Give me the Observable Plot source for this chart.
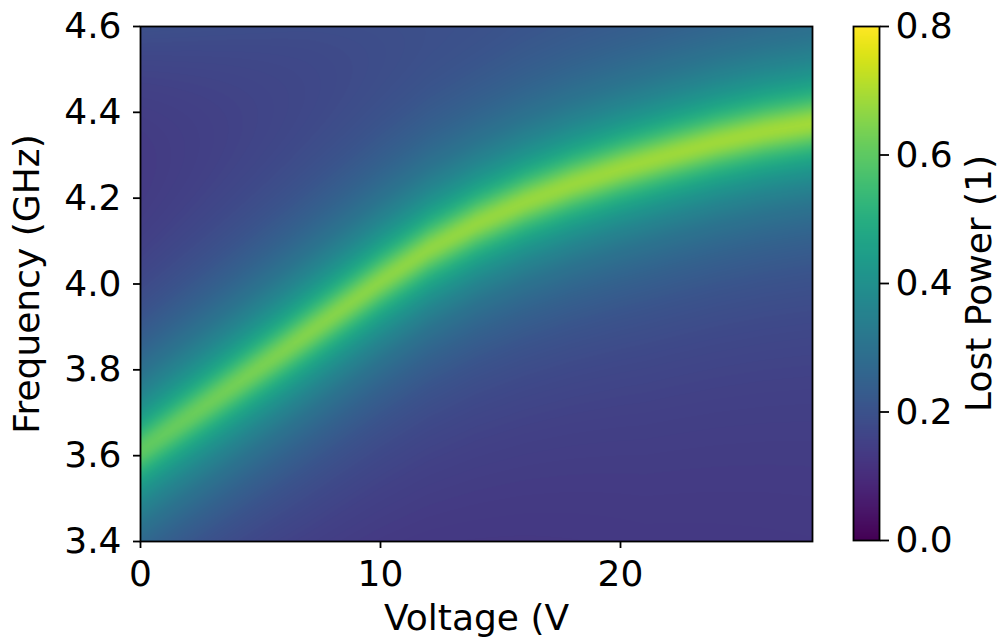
<!DOCTYPE html>
<html><head><meta charset="utf-8">
<script src="https://cdn.jsdelivr.net/npm/d3@7"></script>
<script src="https://cdn.jsdelivr.net/npm/@observablehq/plot@0.6"></script>
<style>
body{margin:0;background:#fff;}
#wrap{position:relative;width:1003px;height:643px;font-family:"DejaVu Sans";}
#wrap svg{position:absolute;top:0;overflow:visible;}
</style></head><body><div id="wrap"></div>
<script>
// Values
// resonance centre (bright ridge) vs voltage
const ridgeVoltages = [0, 2, 4, 6, 8, 10, 12, 14, 16, 18, 20, 22, 24, 26, 28];
const resonanceGHz = [3.612, 3.690, 3.768, 3.846, 3.926, 4.006, 4.080, 4.140, 4.190, 4.232, 4.268, 4.300, 4.330, 4.355, 4.374];
// line-shape parameters vs voltage
const shapeVoltages = [0, 7, 14, 21, 28];
const peakPower = [0.60, 0.645, 0.665, 0.675, 0.68];
const floorPower = [0.065, 0.09, 0.105, 0.115, 0.12];
const broadPower = [0.31, 0.30, 0.29, 0.29, 0.29];
const broadWidthGHz = [0.26, 0.235, 0.22, 0.215, 0.21];
const narrowWidthGHz = [0.068, 0.066, 0.065, 0.064, 0.063];
const topGlowPower = [0.11, 0.065, 0.035, 0.02, 0.015];

const xTicks = [0, 10, 20];
const yTicks = [3.4, 3.6, 3.8, 4.0, 4.2, 4.4, 4.6];
const colorTicks = [0.0, 0.2, 0.4, 0.6, 0.8];
const xDomain = [0, 28];
const yDomain = [3.4, 4.6];
const colorDomain = [0, 0.8];

const along = (knots, arr) => d3.scaleLinear().domain(knots).range(arr).clamp(true);
const f0 = along(ridgeVoltages, resonanceGHz);
const pk = along(shapeVoltages, peakPower), floor = along(shapeVoltages, floorPower),
      a2s = along(shapeVoltages, broadPower), g2s = along(shapeVoltages, broadWidthGHz),
      g1s = along(shapeVoltages, narrowWidthGHz), glow = along(shapeVoltages, topGlowPower);

function lostPower(v, f) {
  const d = f - f0(v);
  const a2 = a2s(v), b = floor(v);
  const a1 = pk(v) - b - a2;
  return b + glow(v) * Math.exp(-(yDomain[1] - f) / 0.24)
    + a1 / (1 + (d / g1s(v)) ** 2) + a2 / (1 + (d / g2s(v)) ** 2);
}

const font = {fontFamily: "DejaVu Sans", fontSize: "36px", color: "black", background: "transparent", overflow: "visible"};
const colorScale = {type: "linear", scheme: "viridis", domain: colorDomain};

const main = Plot.plot({
  width: 1003, height: 643,
  marginLeft: 140, marginRight: 191, marginTop: 26, marginBottom: 102,
  style: font,
  x: {domain: xDomain},
  y: {domain: yDomain},
  color: colorScale,
  marks: [
    Plot.raster({x1: xDomain[0], x2: xDomain[1], y1: yDomain[0], y2: yDomain[1], fill: lostPower, pixelSize: 1}),
    Plot.frame({stroke: "black", strokeWidth: 1.8}),
    Plot.axisX({ticks: xTicks, tickSize: 7, tickPadding: 12, strokeWidth: 1.8, tickFormat: d => String(d), label: null}),
    Plot.axisY({ticks: yTicks, tickSize: 7, tickPadding: 12, strokeWidth: 1.8, tickFormat: d3.format(".1f"), label: null}),
    Plot.text(["Voltage (V"], {text: d => d, frameAnchor: "bottom", dy: 88, lineAnchor: "bottom", textAnchor: "middle", fill: "black"}),
    Plot.text(["Frequency (GHz)"], {text: d => d, frameAnchor: "left", rotate: -90, dx: -127, lineAnchor: "top", textAnchor: "middle", fill: "black"})
  ]
});

const cbar = Plot.plot({
  width: 150, height: 643,
  marginLeft: 0, marginRight: 124, marginTop: 26, marginBottom: 103,
  style: font,
  x: {domain: [0, 1], axis: null},
  y: {domain: colorDomain},
  color: colorScale,
  marks: [
    Plot.raster({x1: 0, x2: 1, y1: colorDomain[0], y2: colorDomain[1], fill: (x, y) => y, pixelSize: 1}),
    Plot.frame({stroke: "black", strokeWidth: 1.8}),
    Plot.axisY({anchor: "right", ticks: colorTicks, tickSize: 9, tickPadding: 7, strokeWidth: 1.8, tickFormat: d3.format(".1f"), label: null}),
    Plot.text(["Lost Power (1)"], {text: d => d, frameAnchor: "right", rotate: -90, dx: 86, lineAnchor: "top", textAnchor: "middle", fill: "black"})
  ]
});
cbar.style.left = "853px";
main.style.left = "0px";
const wrap = document.getElementById("wrap");
wrap.append(main, cbar);
</script>
</body></html>
